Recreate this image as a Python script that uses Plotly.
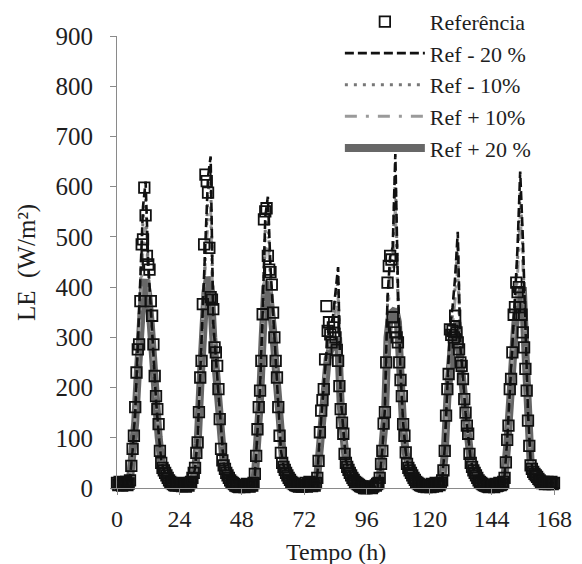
import numpy as np
import plotly.graph_objects as go

# ---------------- data ----------------
# Reference LE (W/m2), half-hourly, t = 0 .. 168 h
ref_d1 = [10, 6, 12, 8, 5, 10, 7, 12, 6, 9, 15,
          44, 78, 104, 161, 230, 276, 286, 372, 485, 495, 598, 543, 462, 445, 435, 372, 343, 286, 223,
          183, 157, 127, 74, 50, 40, 35, 30, 25, 20, 15, 12, 10, 8, 6, 5, 8, 6]
ref_d2 = [5, 8, 4, 10, 6, 3, 8, 5, 10, 12, 20,
          30, 40, 70, 91, 151, 220, 253, 366, 485, 624, 611, 588, 478, 380, 375, 356, 280, 270, 243,
          197, 137, 78, 55, 45, 38, 30, 25, 20, 15, 12, 10, 8, 5, 4, 3, 2, 4]
ref_d3 = [3, 6, 2, 5, 8, 4, 3, 6, 5, 10,
          28, 64, 117, 161, 194, 253, 346, 535, 551, 557, 462, 435, 430, 405, 349, 300, 253, 220, 161,
          104, 70, 50, 42, 36, 30, 25, 20, 16, 12, 10, 8, 6, 5, 4, 3, 5, 3, 4]
ref_d4 = [5, 10, 3, 8, 12, 6, 4, 8, 5, 10,
          20, 54, 111, 154, 175, 197, 256, 362, 313, 330, 306, 290, 320, 330, 300, 275, 253, 203, 157,
          130, 108, 68, 50, 42, 36, 30, 25, 20, 16, 12, 10, 8, 6, 4, 3, 2, 0, 0]
ref_d5 = [0, -3, 2, -5, 0, 3, -2, 5, 8, 10, 20,
          48, 74, 128, 151, 250, 409, 442, 462, 455, 340, 320, 310, 300, 290, 250, 215, 183, 127, 104,
          71, 48, 40, 35, 30, 25, 20, 16, 12, 10, 8, 6, 5, 4, 3, 4, 2, 3]
ref_d6 = [5, 2, 8, 3, 6, 10, 4, 8, 6, 10, 15,
          35, 74, 144, 197, 227, 316, 305, 313, 300, 343, 310, 290, 276, 250, 243, 217, 177, 150, 124,
          108, 68, 50, 42, 35, 30, 25, 20, 15, 12, 10, 8, 6, 5, 4, 3, 2, 4]
ref_d7 = [3, 6, 2, 8, 4, 5, 10, 6, 8, 12,
          20, 51, 96, 124, 197, 217, 270, 345, 360, 409, 390, 400, 360, 345, 310, 280, 237, 194, 134,
          84, 45, 38, 32, 28, 25, 22, 18, 15, 12, 10, 12, 8, 10, 12, 8, 10, 12, 8, 10]

# Simulations, hourly, t = 0 .. 168 h
m20_d = [
    [6, 5, 5, 5, 6, 20, 75, 150, 270, 420, 560, 610, 450, 360, 260, 175, 110, 55, 35, 25, 18, 12, 8, 6],
    [5, 4, 4, 5, 6, 12, 40, 100, 230, 380, 520, 620, 660, 330, 260, 190, 100, 50, 32, 22, 15, 10, 7, 5],
    [5, 4, 4, 4, 6, 25, 110, 200, 350, 540, 580, 440, 350, 260, 165, 75, 45, 32, 22, 15, 10, 7, 5, 4],
    [5, 5, 5, 5, 8, 25, 105, 170, 250, 300, 320, 340, 390, 440, 180, 110, 55, 38, 26, 18, 12, 8, 5, 3],
    [2, 2, 2, 2, 4, 22, 75, 160, 380, 460, 480, 665, 400, 230, 130, 72, 42, 30, 22, 15, 10, 7, 5, 4],
    [4, 4, 4, 5, 6, 15, 80, 200, 320, 360, 420, 510, 280, 220, 150, 105, 55, 38, 27, 18, 12, 8, 5, 4],
    [4, 4, 4, 5, 8, 25, 95, 200, 280, 380, 480, 630, 500, 300, 150, 55, 35, 25, 18, 14, 12, 10, 10, 10, 10],
]
m10_d = [
    [6, 5, 5, 5, 6, 19, 72, 145, 262, 405, 535, 575, 440, 352, 255, 172, 108, 54, 35, 25, 18, 12, 8, 6],
    [5, 4, 4, 5, 6, 12, 38, 97, 222, 365, 500, 590, 620, 325, 255, 187, 98, 50, 32, 22, 15, 10, 7, 5],
    [5, 4, 4, 4, 6, 24, 106, 194, 337, 515, 545, 425, 342, 255, 162, 74, 45, 32, 22, 15, 10, 7, 5, 4],
    [5, 5, 5, 5, 8, 24, 102, 165, 243, 290, 310, 330, 375, 415, 176, 108, 54, 38, 26, 18, 12, 8, 5, 3],
    [2, 2, 2, 2, 4, 21, 72, 155, 365, 445, 460, 620, 385, 225, 128, 71, 42, 30, 22, 15, 10, 7, 5, 4],
    [4, 4, 4, 5, 6, 15, 77, 194, 308, 345, 400, 480, 272, 215, 147, 103, 54, 38, 27, 18, 12, 8, 5, 4],
    [4, 4, 4, 5, 8, 24, 92, 193, 270, 365, 455, 590, 480, 292, 147, 54, 35, 25, 18, 14, 12, 10, 10, 10, 10],
]
p10_d = [
    [6, 5, 5, 5, 6, 18, 68, 138, 245, 375, 480, 520, 420, 340, 248, 168, 105, 53, 35, 25, 18, 12, 8, 6],
    [5, 4, 4, 5, 6, 11, 36, 92, 210, 340, 460, 530, 560, 315, 248, 182, 95, 49, 32, 22, 15, 10, 7, 5],
    [5, 4, 4, 4, 6, 23, 100, 185, 318, 475, 500, 405, 330, 248, 158, 72, 45, 32, 22, 15, 10, 7, 5, 4],
    [5, 5, 5, 5, 8, 23, 97, 158, 232, 275, 295, 312, 350, 380, 170, 105, 53, 38, 26, 18, 12, 8, 5, 3],
    [2, 2, 2, 2, 4, 20, 68, 148, 340, 415, 425, 560, 365, 218, 125, 70, 42, 30, 22, 15, 10, 7, 5, 4],
    [4, 4, 4, 5, 6, 14, 73, 185, 292, 325, 375, 440, 262, 210, 144, 101, 53, 38, 27, 18, 12, 8, 5, 4],
    [4, 4, 4, 5, 8, 23, 88, 184, 258, 345, 425, 540, 455, 282, 144, 53, 35, 25, 18, 14, 12, 10, 10, 10, 10],
]
p20_d = [
    [6, 5, 5, 5, 6, 17, 64, 130, 228, 330, 395, 415, 385, 325, 240, 165, 102, 52, 35, 25, 18, 12, 8, 6],
    [5, 4, 4, 5, 6, 11, 34, 88, 200, 315, 390, 420, 400, 300, 240, 178, 92, 48, 32, 22, 15, 10, 7, 5],
    [5, 4, 4, 4, 6, 22, 95, 178, 300, 400, 410, 370, 315, 240, 155, 70, 45, 32, 22, 15, 10, 7, 5, 4],
    [5, 5, 5, 5, 8, 22, 92, 150, 220, 258, 275, 285, 295, 300, 165, 102, 52, 38, 26, 18, 12, 8, 5, 3],
    [2, 2, 2, 2, 4, 19, 64, 140, 300, 345, 350, 355, 330, 212, 122, 69, 42, 30, 22, 15, 10, 7, 5, 4],
    [4, 4, 4, 5, 6, 13, 70, 178, 270, 300, 320, 330, 252, 205, 141, 99, 52, 38, 27, 18, 12, 8, 5, 4],
    [4, 4, 4, 5, 8, 22, 85, 176, 245, 320, 370, 390, 400, 272, 141, 52, 35, 25, 18, 14, 12, 10, 10, 10, 10],
]

x_ticks = [0, 24, 48, 72, 96, 120, 144, 168]
names = ["Referência", "Ref - 20 %", "Ref - 10%", "Ref + 10%", "Ref + 20 %"]

ref = ref_d1 + ref_d2 + ref_d3 + ref_d4 + ref_d5 + ref_d6 + ref_d7
assert len(ref) == 337, len(ref)
t_ref = np.arange(337) * 0.5


def cat(days):
    out = []
    for d in days:
        out += d
    assert len(out) == 169, len(out)
    return out


m20, m10, p10, p20 = cat(m20_d), cat(m10_d), cat(p10_d), cat(p20_d)
t_h = np.arange(169)

FONT = "Liberation Serif"
TXT = "#1e1e1e"

fig = go.Figure()
fig.add_trace(go.Scatter(x=t_h, y=p20, mode="lines", name=names[4], legendrank=5,
                         line=dict(color="#676767", width=8)))
fig.add_trace(go.Scatter(x=t_h, y=p10, mode="lines", name=names[3], legendrank=4,
                         line=dict(color="#9a9a9a", width=3, dash="12px,9px,3px,9px")))
fig.add_trace(go.Scatter(x=t_h, y=m10, mode="lines", name=names[2], legendrank=3,
                         line=dict(color="#777777", width=3, dash="3px,6px")))
fig.add_trace(go.Scatter(x=t_h, y=m20, mode="lines", name=names[1], legendrank=2,
                         line=dict(color="#111111", width=2.6, dash="9px,4px")))
fig.add_trace(go.Scatter(x=t_ref, y=ref, mode="markers", name=names[0], legendrank=1,
                         cliponaxis=False,
                         marker=dict(symbol="square-open", size=10.5, color="#111111",
                                     line=dict(width=1.8, color="#111111"))))

fig.update_layout(
    width=582, height=564,
    margin=dict(l=117, r=28, t=36, b=76, autoexpand=False),
    paper_bgcolor="white", plot_bgcolor="white",
    font=dict(family=FONT, size=25, color=TXT),
    showlegend=True,
    legend=dict(x=0.51, y=1.078, xanchor="left", yanchor="top",
                bgcolor="rgba(0,0,0,0)", font=dict(family=FONT, size=22, color=TXT),
                itemwidth=80, traceorder="normal", tracegroupgap=0),
    xaxis=dict(range=[0, 168], tickmode="array", tickvals=x_ticks,
               ticktext=[str(v) for v in x_ticks],
               showline=True, linecolor="#8a8a8a", linewidth=1,
               ticks="outside", ticklen=6, tickcolor="#8a8a8a",
               showgrid=False, zeroline=False, ticklabelstandoff=3,
               tickfont=dict(family=FONT, size=24, color=TXT)),
    yaxis=dict(range=[0, 900], dtick=100, tick0=0,
               showline=True, linecolor="#8a8a8a", linewidth=1,
               ticks="outside", ticklen=6, tickcolor="#8a8a8a",
               showgrid=False, zeroline=False, ticklabelstandoff=12,
               tickfont=dict(family=FONT, size=25, color=TXT)),
    annotations=[
        dict(text="LE  (W/m²)", xref="paper", yref="paper", x=-0.206, y=0.5,
             xanchor="center", yanchor="middle", textangle=-90, showarrow=False,
             font=dict(family=FONT, size=25, color=TXT)),
        dict(text="Tempo (h)", xref="paper", yref="paper", x=0.5, y=-0.1425,
             xanchor="center", yanchor="middle", showarrow=False,
             font=dict(family=FONT, size=24, color=TXT)),
    ],
)

fig.write_html("out.html", config={"displayModeBar": False})
